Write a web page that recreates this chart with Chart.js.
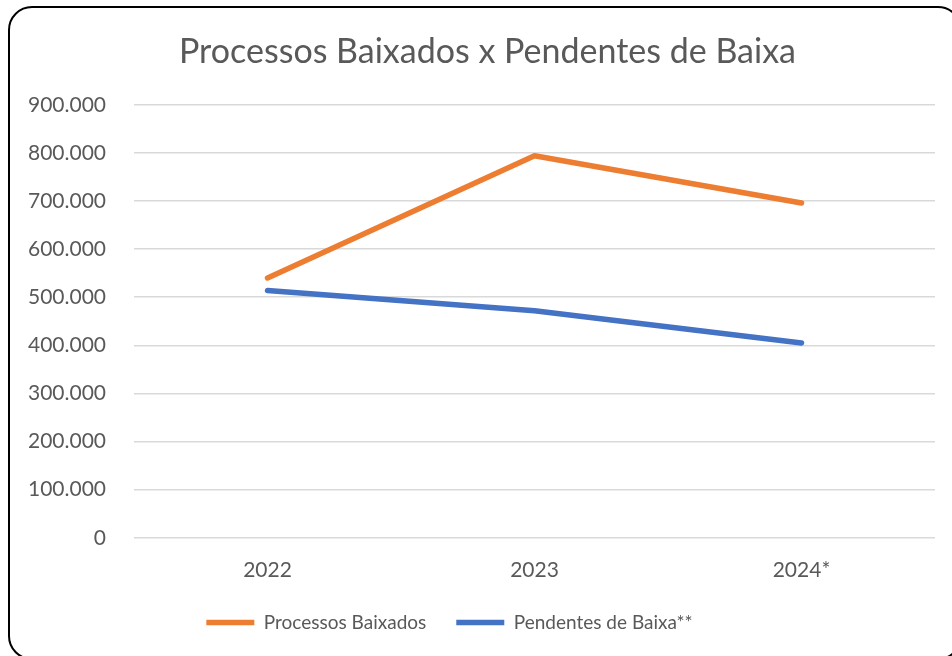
<!DOCTYPE html>
<html><head><meta charset="utf-8">
<script src="https://cdn.jsdelivr.net/npm/chart.js@4/dist/chart.umd.min.js"></script>
<style>
html,body{margin:0;padding:0;background:#fff;overflow:hidden;}
#wrap{position:relative;width:952px;height:656px;overflow:hidden;}
#frame{position:absolute;left:8px;top:6px;width:954px;height:654px;border:2px solid #000;border-radius:24px;box-sizing:border-box;}
canvas{position:absolute;left:0;top:0;}
</style></head>
<body><div id="wrap"><div id="frame"></div><canvas id="c" width="952" height="656"></canvas></div>
<script>
const categories = ["2022", "2023", "2024*"];
const processosBaixados = [540000, 794000, 696000];
const pendentesDeBaixa = [514000, 472000, 405000];
const seriesNames = ["Processos Baixados", "Pendentes de Baixa**"];
const chartTitle = "Processos Baixados x Pendentes de Baixa";

function fmt(v){ return String(Math.round(v)).replace(/\B(?=(\d{3})+(?!\d))/g, "."); }
const FONT = "Lato, 'Open Sans', sans-serif";

const shiftBlocks = {
  id: 'shiftBlocks',
  afterLayout(chart){
    if (chart.titleBlock) { chart.titleBlock.left += 40; }
    if (chart.legend) { chart.legend.left -= 18; chart.legend.right -= 18; }
  }
};

new Chart(document.getElementById('c'), {
  type: 'line',
  data: {
    labels: categories,
    datasets: [
      {label: seriesNames[0], data: processosBaixados, borderColor:'#ED7D31', backgroundColor:'#ED7D31', borderWidth:5.5, pointRadius:0, borderCapStyle:'round', borderJoinStyle:'round', tension:0},
      {label: seriesNames[1], data: pendentesDeBaixa, borderColor:'#4472C4', backgroundColor:'#4472C4', borderWidth:5.5, pointRadius:0, borderCapStyle:'round', borderJoinStyle:'round', tension:0}
    ]
  },
  plugins:[shiftBlocks],
  options: {
    responsive:false, animation:false,
    layout:{padding:{left:0, right:17, top:26, bottom:14}},
    plugins:{
      title:{display:true, text:chartTitle, color:'#595959', font:{family:FONT, size:34, weight:'normal'}, padding:{top:6, bottom:32}},
      legend:{position:'bottom', labels:{color:'#595959', font:{family:FONT, size:19}, boxWidth:48, boxHeight:0, padding:30,
        generateLabels(chart){ return chart.data.datasets.map((d,i)=>({text:d.label, strokeStyle:d.borderColor, fillStyle:d.borderColor, lineWidth:5.5, lineCap:'round', fontColor:'#595959', datasetIndex:i, hidden:false})); }
      }},
      tooltip:{enabled:false}
    },
    scales:{
      x:{offset:true, grid:{display:false, drawTicks:false}, border:{display:false},
         ticks:{color:'#595959', font:{family:FONT, size:21}, padding:20},
         afterFit(s){ s.height -= 20; }},
      y:{min:0, max:900000, grid:{color:'#d9d9d9', lineWidth:1.5, drawTicks:false}, border:{display:false},
         ticks:{stepSize:100000, color:'#595959', font:{family:FONT, size:21}, padding:28, callback:v=>fmt(v)}}
    }
  }
});
</script></body></html>
